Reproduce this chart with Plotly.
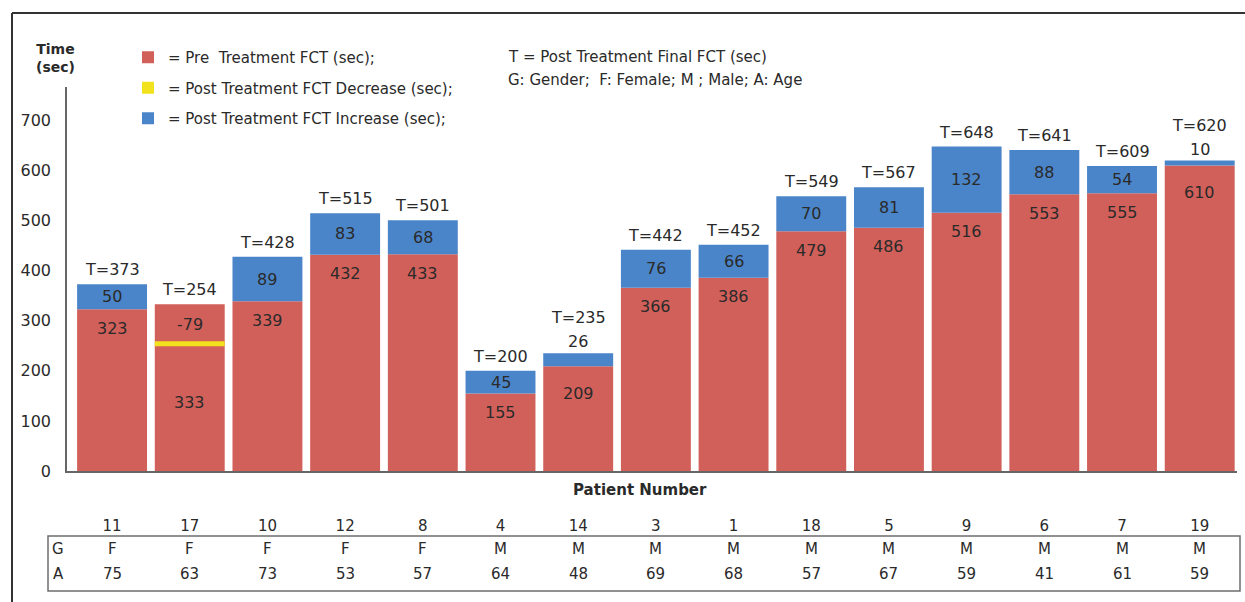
import plotly.graph_objects as go

# ---------------- data ----------------
patients = ["11", "17", "10", "12", "8", "4", "14", "3", "1", "18", "5", "9", "6", "7", "19"]
gender = ["F", "F", "F", "F", "F", "M", "M", "M", "M", "M", "M", "M", "M", "M", "M"]
age = [75, 63, 73, 53, 57, 64, 48, 69, 68, 57, 67, 59, 41, 61, 59]
pre_fct = [323, 333, 339, 432, 433, 155, 209, 366, 386, 479, 486, 516, 553, 555, 610]
post_fct = [373, 254, 428, 515, 501, 200, 235, 442, 452, 549, 567, 648, 641, 609, 620]
y_ticks = [0, 100, 200, 300, 400, 500, 600, 700]

# ---------------- geometry ----------------
W, H = 1245, 602
ML, MR, MT, MB = 67, 8, 87, 131
PW, PH = W - ML - MR, H - MT - MB
Y_MAX = 767
X_RANGE = [-0.58, 14.48]
BAR_W = 0.9

RED = "#d2605a"
BLUE = "#4a85c9"
YELLOW = "#f2e21e"
TXT = "#2a2a2a"
FONT = "DejaVu Sans, Verdana, sans-serif"


def px(xp):
    return (xp - ML) / PW


def py(yp):
    return (H - MB - yp) / PH


n = len(patients)
xs = list(range(n))
change = [b - a for a, b in zip(pre_fct, post_fct)]

inc_x = [i for i in xs if change[i] > 0]
inc_base = [pre_fct[i] for i in inc_x]
inc_val = [change[i] for i in inc_x]

dec_x = [i for i in xs if change[i] < 0]
dec_base = [post_fct[i] - 5 for i in dec_x]
dec_val = [10 for _ in dec_x]

fig = go.Figure()
fig.add_trace(go.Bar(
    x=xs, y=pre_fct, width=BAR_W, marker=dict(color=RED, line=dict(width=0)),
    name="= Pre  Treatment FCT (sec);", legendgroup="a", hoverinfo="skip"))
fig.add_trace(go.Bar(
    x=dec_x, y=dec_val, base=dec_base, width=BAR_W,
    marker=dict(color=YELLOW, line=dict(width=0)),
    name="= Post Treatment FCT Decrease (sec);", legendgroup="b", hoverinfo="skip"))
fig.add_trace(go.Bar(
    x=inc_x, y=inc_val, base=inc_base, width=BAR_W,
    marker=dict(color=BLUE, line=dict(width=0)),
    name="= Post Treatment FCT Increase (sec);", legendgroup="c", hoverinfo="skip"))

ann = []
lab_font = dict(family=FONT, size=16, color=TXT)
tab_font = dict(family=FONT, size=15, color=TXT)
for i in xs:
    p, q, c = pre_fct[i], post_fct[i], change[i]
    top = max(p, q)
    extra = 0
    if c > 0:
        if c >= 30:
            ann.append(dict(x=i, y=(p + q) / 2, text=str(c), showarrow=False,
                            font=lab_font, yanchor="middle"))
        else:
            ann.append(dict(x=i, y=top, text=str(c), showarrow=False,
                            font=lab_font, yanchor="bottom", yshift=0))
            extra = 21
        ann.append(dict(x=i, y=p, text=str(p), showarrow=False,
                        font=lab_font, yanchor="middle", yshift=-19 - (8 if extra else 0)))
    else:
        ann.append(dict(x=i, y=(p + q) / 2, text=str(c), showarrow=False,
                        font=lab_font, yanchor="middle"))
        ann.append(dict(x=i, y=q / 2 + 10, text=str(p), showarrow=False,
                        font=lab_font, yanchor="middle"))
    ann.append(dict(x=i, y=top, text="T=" + str(q), showarrow=False,
                    font=lab_font, yanchor="bottom", yshift=3 + extra))
    # table rows
    ann.append(dict(x=i, y=py(549), yref="paper", text=gender[i], showarrow=False,
                    font=tab_font, yanchor="middle"))
    ann.append(dict(x=i, y=py(574), yref="paper", text=str(age[i]), showarrow=False,
                    font=tab_font, yanchor="middle"))

note_font = dict(family=FONT, size=15, color=TXT)
ann += [
    dict(x=px(58), y=py(549), xref="paper", yref="paper", text="G", showarrow=False,
         font=tab_font, xanchor="center", yanchor="middle"),
    dict(x=px(58), y=py(574), xref="paper", yref="paper", text="A", showarrow=False,
         font=tab_font, xanchor="center", yanchor="middle"),
    dict(x=px(640), y=py(490), xref="paper", yref="paper", text="<b>Patient Number</b>",
         showarrow=False, font=dict(family=FONT, size=15, color=TXT),
         xanchor="center", yanchor="middle"),
    dict(x=px(55), y=py(58), xref="paper", yref="paper", text="<b>Time<br>(sec)</b>",
         showarrow=False, font=dict(family=FONT, size=14, color=TXT),
         xanchor="center", yanchor="middle", align="center"),
    dict(x=px(506), y=py(57), xref="paper", yref="paper",
         text="T = Post Treatment Final FCT (sec)", showarrow=False,
         font=note_font, xanchor="left", yanchor="middle"),
    dict(x=px(506), y=py(80), xref="paper", yref="paper",
         text="G: Gender;  F: Female; M ; Male; A: Age", showarrow=False,
         font=note_font, xanchor="left", yanchor="middle"),
]

shapes = [
    # table box
    dict(type="rect", xref="paper", yref="paper", x0=px(48), x1=px(1240), y0=py(591), y1=py(536),
         line=dict(color="#6e6e6e", width=1.5)),
    # outer frame (top and left edges)
    dict(type="line", xref="paper", yref="paper", x0=px(12), x1=px(1246), y0=py(13), y1=py(13),
         line=dict(color="#333333", width=2)),
    dict(type="line", xref="paper", yref="paper", x0=px(12), x1=px(12), y0=py(13), y1=py(603),
         line=dict(color="#333333", width=2)),
]

fig.update_layout(
    width=W, height=H,
    margin=dict(l=ML, r=MR, t=MT, b=MB, pad=0),
    paper_bgcolor="white", plot_bgcolor="white",
    barmode="overlay",
    font=dict(family=FONT, color=TXT),
    annotations=ann, shapes=shapes,
    showlegend=True,
    legend=dict(x=px(128), y=py(41), xanchor="left", yanchor="top",
                font=note_font, tracegroupgap=8,
                bgcolor="rgba(0,0,0,0)", traceorder="grouped", itemclick=False),
    xaxis=dict(range=X_RANGE, tickvals=xs, ticktext=patients, showgrid=False, zeroline=False,
               showline=True, linecolor="#666666", linewidth=1.5, ticks="",
               tickfont=dict(family=FONT, size=15, color=TXT), ticklabelstandoff=40),
    yaxis=dict(range=[0, Y_MAX], tickvals=y_ticks, showgrid=False, zeroline=False,
               showline=True, linecolor="#666666", linewidth=1.5, ticks="",
               tickfont=dict(family=FONT, size=16, color=TXT), ticklabelstandoff=11),
)

fig.write_html("out.html", post_script="document.body.style.margin='0';",
               config={"displayModeBar": False})
